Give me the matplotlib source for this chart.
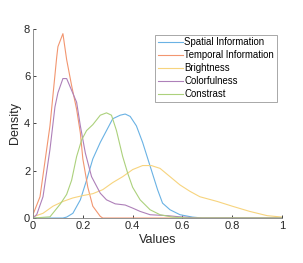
import matplotlib
matplotlib.use('Agg')
import matplotlib.pyplot as plt

# density curves (x, density)
spatial_x = [0, 0.12, 0.135, 0.16, 0.19, 0.215, 0.24, 0.27, 0.295, 0.32, 0.35, 0.37, 0.39,
             0.415, 0.44, 0.47, 0.50, 0.52, 0.55, 0.59, 0.64, 0.68, 1.0]
spatial_y = [0, 0, 0.04, 0.2, 0.77, 1.6, 2.5, 3.2, 3.7, 4.2, 4.35, 4.4, 4.3,
             3.9, 3.2, 2.2, 1.2, 0.63, 0.35, 0.14, 0.04, 0, 0]

temporal_x = [0, 0.028, 0.068, 0.095, 0.10, 0.12, 0.135, 0.155, 0.175, 0.19, 0.20, 0.22,
              0.24, 0.27, 0.28, 1.0]
temporal_y = [0.15, 0.9, 3.9, 6.8, 7.25, 7.8, 6.7, 5.6, 4.6, 3.6, 2.5, 1.3,
              0.5, 0.07, 0, 0]

bright_x = [0, 0.04, 0.08, 0.12, 0.16, 0.20, 0.24, 0.28, 0.32, 0.36, 0.40, 0.44, 0.475,
            0.51, 0.55, 0.59, 0.63, 0.67, 0.74, 0.80, 0.87, 0.94, 1.0]
bright_y = [0.05, 0.2, 0.5, 0.7, 0.85, 0.95, 1.03, 1.2, 1.5, 1.75, 2.05, 2.22, 2.22,
            2.1, 1.75, 1.4, 1.13, 0.9, 0.7, 0.5, 0.28, 0.1, 0.04]

color_x = [0, 0.015, 0.04, 0.068, 0.088, 0.10, 0.12, 0.135, 0.155, 0.175, 0.19, 0.21,
           0.235, 0.27, 0.295, 0.33, 0.37, 0.40, 0.43, 0.47, 0.54, 0.59, 0.67, 1.0]
color_y = [0, 0.15, 0.9, 2.9, 4.7, 5.3, 5.9, 5.9, 5.4, 4.9, 3.9, 2.75,
           1.75, 1.05, 0.77, 0.6, 0.55, 0.42, 0.28, 0.14, 0.1, 0.05, 0, 0]

contrast_x = [0, 0.068, 0.11, 0.135, 0.155, 0.175, 0.195, 0.215, 0.24, 0.27, 0.295, 0.315,
              0.335, 0.36, 0.38, 0.40, 0.43, 0.47, 0.51, 0.56, 0.62, 1.0]
contrast_y = [0, 0.05, 0.6, 1.0, 1.6, 2.6, 3.3, 3.7, 3.95, 4.35, 4.45, 4.35,
              3.7, 2.6, 1.9, 1.3, 0.77, 0.35, 0.14, 0.04, 0, 0]

labels = ['Spatial Information', 'Temporal Information', 'Brightness', 'Colorfulness', 'Constrast']
colors = ['#6ab2e4', '#f29670', '#f7d47e', '#ae80b9', '#acd17c']

plt.rcParams['font.family'] = ['Liberation Sans', 'DejaVu Sans']
fig = plt.figure(figsize=(3.03, 2.63), dpi=100)
ax = fig.add_axes([0.109, 0.171, 0.822, 0.719])

series = [(spatial_x, spatial_y), (temporal_x, temporal_y), (bright_x, bright_y),
          (color_x, color_y), (contrast_x, contrast_y)]
for (xs, ys), lab, c in zip(series, labels, colors):
    ax.plot(xs, ys, color=c, lw=0.8, label=lab)

ax.set_xlim(0, 1)
ax.set_ylim(0, 8)
ax.set_xticks([0, 0.2, 0.4, 0.6, 0.8, 1])
ax.set_xticklabels(['0', '0.2', '0.4', '0.6', '0.8', '1'])
ax.set_yticks([0, 2, 4, 6, 8])
ax.tick_params(direction='in', length=2.5, width=0.6, labelsize=8, colors='#262626', pad=2)
for s in ['top', 'right']:
    ax.spines[s].set_visible(False)
for s in ['left', 'bottom']:
    ax.spines[s].set_color('#808080')
    ax.spines[s].set_linewidth(0.6)
ax.set_xlabel('Values', fontsize=9, color='#262626', labelpad=2)
ax.set_ylabel('Density', fontsize=9, color='#262626', labelpad=2)

leg = ax.legend(loc='upper right', bbox_to_anchor=(0.98, 0.97), fontsize=6.9, frameon=True,
                fancybox=False, borderpad=0.3, labelspacing=0.3, handlelength=2.6,
                handletextpad=0.2, borderaxespad=0)
leg.get_frame().set_edgecolor('#808080')
leg.get_frame().set_linewidth(0.6)

fig.savefig('out.png', dpi=100)
